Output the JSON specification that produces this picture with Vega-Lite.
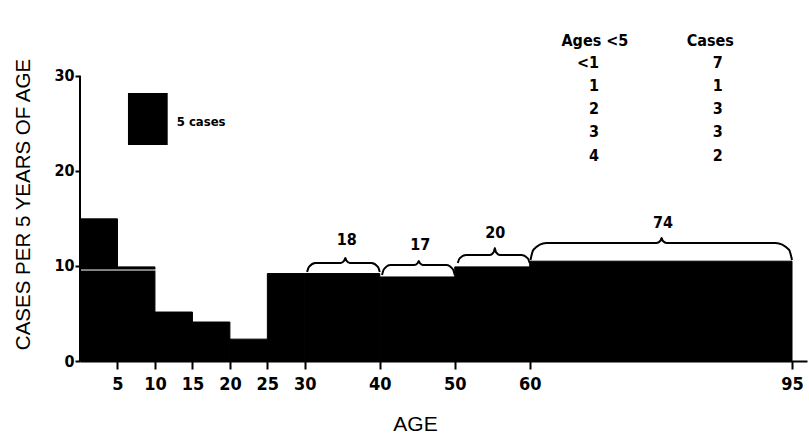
{
  "$schema": "https://vega.github.io/schema/vega-lite/v6.json",
  "width": 727,
  "height": 328,
  "autosize": {"type": "none"},
  "padding": {"left": 80, "top": 33, "right": 2, "bottom": 72},
  "background": "white",
  "config": {"view": {"stroke": null}, "axis": {"grid": false}},
  "datasets": {
    "bars": [
      {"age_start": 0, "age_end": 5, "cases_per_5yr": 14.95},
      {"age_start": 5, "age_end": 10, "cases_per_5yr": 9.9},
      {"age_start": 10, "age_end": 15, "cases_per_5yr": 5.15},
      {"age_start": 15, "age_end": 20, "cases_per_5yr": 4.1},
      {"age_start": 20, "age_end": 25, "cases_per_5yr": 2.3},
      {"age_start": 25, "age_end": 30, "cases_per_5yr": 9.2},
      {"age_start": 30, "age_end": 40, "cases_per_5yr": 9.2},
      {"age_start": 40, "age_end": 50, "cases_per_5yr": 8.84},
      {"age_start": 50, "age_end": 60, "cases_per_5yr": 9.9},
      {"age_start": 60, "age_end": 95, "cases_per_5yr": 10.5}
    ],
    "yaxisline": [{"y0": 0, "y1": 30}],
    "scanline": [{"x0": 0, "x1": 10.2, "y": 9.57}],
    "legendbox": [{"x0": 6.4, "x1": 11.7, "y0": 22.72, "y1": 28.19, "lx": 12.9, "ly": 25.14, "label": "5 cases"}],
    "braces": [
      {"brace": "18", "i": 0, "x": 30.3, "y": 9.36},
      {"brace": "18", "i": 1, "x": 30.55, "y": 9.9},
      {"brace": "18", "i": 2, "x": 31.4, "y": 10.31},
      {"brace": "18", "i": 3, "x": 34.8, "y": 10.31},
      {"brace": "18", "i": 4, "x": 35.25, "y": 10.55},
      {"brace": "18", "i": 5, "x": 35.4, "y": 10.84},
      {"brace": "18", "i": 6, "x": 35.55, "y": 10.55},
      {"brace": "18", "i": 7, "x": 36.0, "y": 10.31},
      {"brace": "18", "i": 8, "x": 38.9, "y": 10.31},
      {"brace": "18", "i": 9, "x": 39.75, "y": 9.9},
      {"brace": "18", "i": 10, "x": 40.0, "y": 9.36},
      {"brace": "17", "i": 0, "x": 40.3, "y": 9.05},
      {"brace": "17", "i": 1, "x": 40.55, "y": 9.65},
      {"brace": "17", "i": 2, "x": 41.4, "y": 10.1},
      {"brace": "17", "i": 3, "x": 44.6, "y": 10.1},
      {"brace": "17", "i": 4, "x": 45.05, "y": 10.3},
      {"brace": "17", "i": 5, "x": 45.2, "y": 10.52},
      {"brace": "17", "i": 6, "x": 45.35, "y": 10.3},
      {"brace": "17", "i": 7, "x": 45.8, "y": 10.1},
      {"brace": "17", "i": 8, "x": 48.9, "y": 10.1},
      {"brace": "17", "i": 9, "x": 49.75, "y": 9.65},
      {"brace": "17", "i": 10, "x": 50.0, "y": 9.05},
      {"brace": "20", "i": 0, "x": 50.4, "y": 10.31},
      {"brace": "20", "i": 1, "x": 50.65, "y": 10.8},
      {"brace": "20", "i": 2, "x": 51.5, "y": 11.15},
      {"brace": "20", "i": 3, "x": 54.7, "y": 11.15},
      {"brace": "20", "i": 4, "x": 55.2, "y": 11.45},
      {"brace": "20", "i": 5, "x": 55.35, "y": 11.89},
      {"brace": "20", "i": 6, "x": 55.5, "y": 11.45},
      {"brace": "20", "i": 7, "x": 56.0, "y": 11.15},
      {"brace": "20", "i": 8, "x": 58.9, "y": 11.15},
      {"brace": "20", "i": 9, "x": 59.75, "y": 10.8},
      {"brace": "20", "i": 10, "x": 60.0, "y": 10.31},
      {"brace": "74", "i": 0, "x": 60.1, "y": 10.62},
      {"brace": "74", "i": 1, "x": 60.5, "y": 11.7},
      {"brace": "74", "i": 2, "x": 62.2, "y": 12.41},
      {"brace": "74", "i": 3, "x": 76.9, "y": 12.41},
      {"brace": "74", "i": 4, "x": 77.45, "y": 12.65},
      {"brace": "74", "i": 5, "x": 77.6, "y": 12.94},
      {"brace": "74", "i": 6, "x": 77.75, "y": 12.65},
      {"brace": "74", "i": 7, "x": 78.3, "y": 12.41},
      {"brace": "74", "i": 8, "x": 92.8, "y": 12.41},
      {"brace": "74", "i": 9, "x": 94.6, "y": 11.7},
      {"brace": "74", "i": 10, "x": 95.0, "y": 10.62}
    ],
    "bracelabels": [
      {"label": "18", "x": 35.6, "y": 12.73},
      {"label": "17", "x": 45.4, "y": 12.2},
      {"label": "20", "x": 55.4, "y": 13.46},
      {"label": "74", "x": 77.8, "y": 14.52}
    ],
    "tablehead": [
      {"text": "Ages <5", "x": 68.7, "y": 33.66},
      {"text": "Cases", "x": 84.1, "y": 33.66}
    ],
    "table": [
      {"age": "<1", "cases": 7, "y": 31.35},
      {"age": "1", "cases": 1, "y": 28.93},
      {"age": "2", "cases": 3, "y": 26.51},
      {"age": "3", "cases": 3, "y": 24.09},
      {"age": "4", "cases": 2, "y": 21.56}
    ]
  },
  "layer": [
    {
      "data": {"name": "bars"},
      "mark": {"type": "rect", "color": "black", "stroke": "black", "strokeWidth": 1},
      "encoding": {
        "x": {
          "field": "age_start", "type": "quantitative",
          "scale": {"domain": [0, 97], "nice": false, "zero": false},
          "axis": {
            "values": [5, 10, 15, 20, 25, 30, 40, 50, 60, 95],
            "title": "AGE",
            "titleFont": "Liberation Sans", "titleFontSize": 21, "titleFontWeight": "normal", "titleColor": "black",
            "titleX": 335, "titleY": 69, "titleBaseline": "alphabetic",
            "labelFont": "DejaVu Sans Condensed", "labelFontWeight": "bold", "labelFontSize": 18, "labelColor": "black",
            "labelPadding": 6, "labelFlush": false, "labelOverlap": false,
            "tickSize": 8, "tickWidth": 2, "tickColor": "black",
            "domainColor": "black", "domainWidth": 2
          }
        },
        "x2": {"field": "age_end"},
        "y": {
          "field": "cases_per_5yr", "type": "quantitative",
          "scale": {"domain": [0, 34.5], "nice": false},
          "axis": {
            "values": [0, 10, 20, 30],
            "domain": false,
            "title": "CASES PER 5 YEARS OF AGE",
            "titleFont": "Liberation Sans", "titleFontSize": 20.5, "titleFontWeight": "normal", "titleColor": "black",
            "titleX": -51, "titleY": 171, "titleBaseline": "alphabetic",
            "labelFont": "DejaVu Sans Condensed", "labelFontWeight": "bold", "labelFontSize": 16, "labelColor": "black",
            "labelPadding": 1,
            "tickSize": 5, "tickWidth": 2, "tickColor": "black"
          }
        },
        "y2": {"datum": 0}
      }
    },
    {
      "data": {"name": "scanline"},
      "mark": {"type": "rule", "color": "white", "strokeWidth": 1},
      "encoding": {
        "x": {"field": "x0", "type": "quantitative"},
        "x2": {"field": "x1"},
        "y": {"field": "y", "type": "quantitative"}
      }
    },
    {
      "data": {"name": "yaxisline"},
      "mark": {"type": "rule", "color": "black", "strokeWidth": 2},
      "encoding": {
        "x": {"datum": 0, "type": "quantitative"},
        "y": {"field": "y0", "type": "quantitative"},
        "y2": {"field": "y1"}
      }
    },
    {
      "data": {"name": "legendbox"},
      "mark": {"type": "rect", "color": "black"},
      "encoding": {
        "x": {"field": "x0", "type": "quantitative"},
        "x2": {"field": "x1"},
        "y": {"field": "y0", "type": "quantitative"},
        "y2": {"field": "y1"}
      }
    },
    {
      "data": {"name": "legendbox"},
      "mark": {"type": "text", "align": "left", "baseline": "middle", "font": "DejaVu Sans Condensed", "fontWeight": "bold", "fontSize": 13, "color": "black"},
      "encoding": {
        "x": {"field": "lx", "type": "quantitative"},
        "y": {"field": "ly", "type": "quantitative"},
        "text": {"field": "label"}
      }
    },
    {
      "data": {"name": "braces"},
      "mark": {"type": "line", "color": "black", "strokeWidth": 2, "interpolate": "monotone"},
      "encoding": {
        "x": {"field": "x", "type": "quantitative"},
        "y": {"field": "y", "type": "quantitative"},
        "detail": {"field": "brace"},
        "order": {"field": "i"}
      }
    },
    {
      "data": {"name": "bracelabels"},
      "mark": {"type": "text", "align": "center", "baseline": "middle", "font": "DejaVu Sans Condensed", "fontWeight": "bold", "fontSize": 16, "color": "black"},
      "encoding": {
        "x": {"field": "x", "type": "quantitative"},
        "y": {"field": "y", "type": "quantitative"},
        "text": {"field": "label"}
      }
    },
    {
      "data": {"name": "tablehead"},
      "mark": {"type": "text", "align": "center", "baseline": "middle", "font": "DejaVu Sans Condensed", "fontWeight": "bold", "fontSize": 16, "color": "black"},
      "encoding": {
        "x": {"field": "x", "type": "quantitative"},
        "y": {"field": "y", "type": "quantitative"},
        "text": {"field": "text"}
      }
    },
    {
      "data": {"name": "table"},
      "mark": {"type": "text", "align": "right", "baseline": "middle", "font": "DejaVu Sans Condensed", "fontWeight": "bold", "fontSize": 16, "color": "black"},
      "encoding": {
        "x": {"datum": 69.25, "type": "quantitative"},
        "y": {"field": "y", "type": "quantitative"},
        "text": {"field": "age"}
      }
    },
    {
      "data": {"name": "table"},
      "mark": {"type": "text", "align": "center", "baseline": "middle", "font": "DejaVu Sans Condensed", "fontWeight": "bold", "fontSize": 16, "color": "black"},
      "encoding": {
        "x": {"datum": 85.1, "type": "quantitative"},
        "y": {"field": "y", "type": "quantitative"},
        "text": {"field": "cases"}
      }
    }
  ]
}
